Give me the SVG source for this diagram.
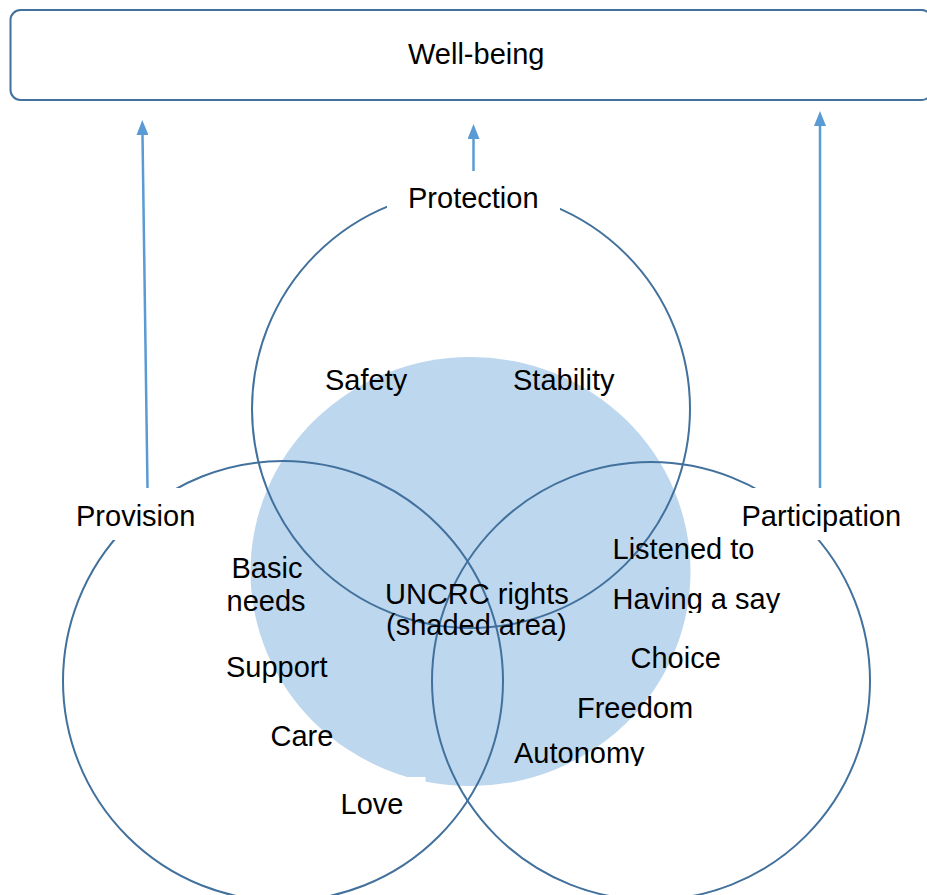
<svg xmlns="http://www.w3.org/2000/svg" width="927" height="895" viewBox="0 0 927 895">
  <defs>
    <style>
      .ring { fill: none; stroke: #41719C; stroke-width: 2; }
      .frame { fill: #FFFFFF; stroke: #41719C; stroke-width: 2; }
      .mask { fill: #FFFFFF; stroke: none; }
      .label { font-family: "Liberation Sans", Arial, sans-serif; font-size: 29px; fill: #000000; }
      .link { fill: none; stroke: #5B9BD5; stroke-width: 2.5; }
    </style>
    <marker id="head" viewBox="0 0 15 12" refX="0" refY="6" markerWidth="15" markerHeight="12" markerUnits="userSpaceOnUse" orient="auto">
      <path d="M0,0 L15,6 L0,12 z" fill="#5B9BD5"/>
    </marker>
    <clipPath id="clipSay"><rect x="600" y="570" width="200" height="43"/></clipPath>
    <clipPath id="clipAuto"><rect x="500" y="725" width="160" height="41"/></clipPath>
  </defs>

  <!-- top outcome box (runs past the right edge) -->
  <g id="wellbeing">
    <rect class="frame" x="10.5" y="10" width="921" height="90" rx="10" ry="10"/>
    <text class="label" x="408" y="64">Well-being</text>
  </g>

  <!-- shared rights area -->
  <g id="uncrc">
    <ellipse cx="470.5" cy="571.5" rx="220" ry="214.5" fill="#BDD7EE"/>
    <rect class="mask" x="330" y="777" width="95.5" height="40"/>
  </g>

  <!-- domain circles -->
  <g id="protection">
    <circle class="ring" cx="471" cy="409" r="219"/>
  </g>
  <g id="provision">
    <circle class="ring" cx="283" cy="681" r="220"/>
  </g>
  <g id="participation">
    <circle class="ring" cx="651" cy="681" r="219"/>
  </g>

  <!-- circle titles on white boxes -->
  <g id="protection-title">
    <rect class="mask" x="387" y="171" width="173" height="52"/>
    <text class="label" x="408" y="208">Protection</text>
  </g>
  <g id="provision-title">
    <rect class="mask" x="60" y="488" width="150" height="52"/>
    <text class="label" x="76" y="526">Provision</text>
  </g>
  <g id="participation-title">
    <rect class="mask" x="730" y="488" width="180" height="52"/>
    <text class="label" x="741.5" y="526">Participation</text>
  </g>

  <!-- items -->
  <g id="items">
    <text class="label" x="325" y="390">Safety</text>
    <text class="label" x="513" y="390">Stability</text>
    <text class="label" x="231.5" y="578">Basic</text>
    <text class="label" x="226.5" y="611">needs</text>
    <text class="label" x="226" y="677">Support</text>
    <text class="label" x="270.5" y="746">Care</text>
    <text class="label" x="340.5" y="814">Love</text>
    <text class="label" x="385" y="604">UNCRC rights</text>
    <text class="label" x="386" y="635">(shaded area)</text>
    <text class="label" x="612.5" y="559">Listened to</text>
    <text class="label" x="612.5" y="609" clip-path="url(#clipSay)">Having a say</text>
    <text class="label" x="630.5" y="668">Choice</text>
    <text class="label" x="577" y="718">Freedom</text>
    <text class="label" x="514" y="763" clip-path="url(#clipAuto)">Autonomy</text>
  </g>

  <!-- arrows into the outcome box -->
  <g id="connectors">
    <path class="link" d="M147.5,488 L142.5,135" marker-end="url(#head)"/>
    <path class="link" d="M473.5,171 L473.5,139" marker-end="url(#head)"/>
    <path class="link" d="M820,488 L820,126" marker-end="url(#head)"/>
  </g>
</svg>
